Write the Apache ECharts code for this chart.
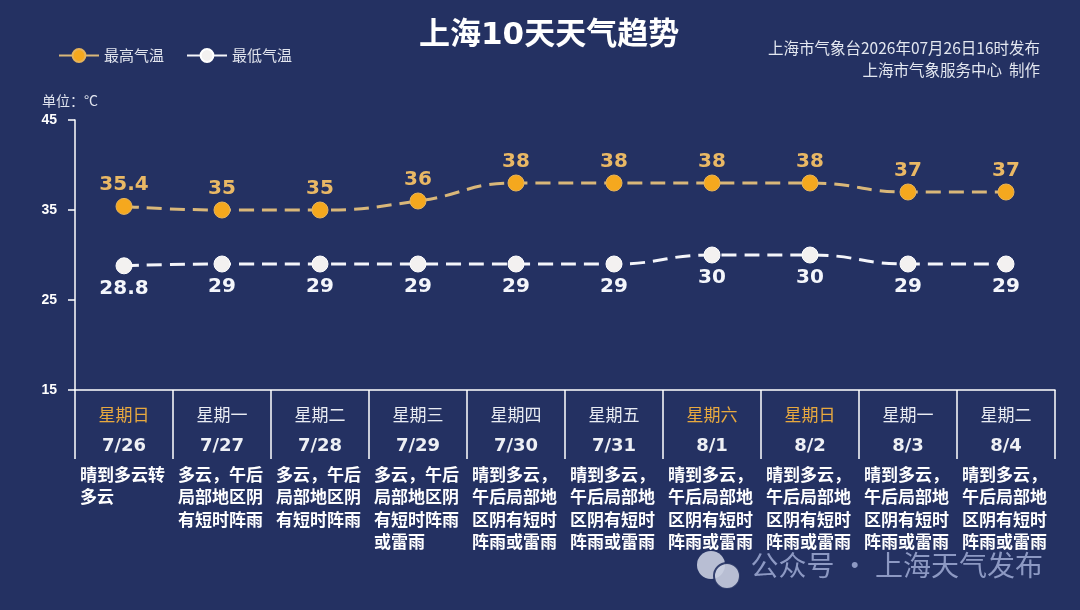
<!DOCTYPE html>
<html>
<head>
<meta charset="utf-8">
<script src="https://cdn.jsdelivr.net/npm/echarts@6/dist/echarts.min.js"></script>
<style>
html,body{margin:0;padding:0;background:#243162;}
#c{width:1080px;height:610px;}
</style>
</head>
<body>
<div id="c"></div>
<script>
const dates = ['7/26','7/27','7/28','7/29','7/30','7/31','8/1','8/2','8/3','8/4'];
const weekdays = ['星期日','星期一','星期二','星期三','星期四','星期五','星期六','星期日','星期一','星期二'];
const weekend = [true,false,false,false,false,false,true,true,false,false];
const descriptions = [
  '晴到多云转\n多云',
  '多云，午后\n局部地区阴\n有短时阵雨',
  '多云，午后\n局部地区阴\n有短时阵雨',
  '多云，午后\n局部地区阴\n有短时阵雨\n或雷雨',
  '晴到多云，\n午后局部地\n区阴有短时\n阵雨或雷雨',
  '晴到多云，\n午后局部地\n区阴有短时\n阵雨或雷雨',
  '晴到多云，\n午后局部地\n区阴有短时\n阵雨或雷雨',
  '晴到多云，\n午后局部地\n区阴有短时\n阵雨或雷雨',
  '晴到多云，\n午后局部地\n区阴有短时\n阵雨或雷雨',
  '晴到多云，\n午后局部地\n区阴有短时\n阵雨或雷雨'
];
const maxTemp = [35.4, 35, 35, 36, 38, 38, 38, 38, 37, 37];
const minTemp = [28.8, 29, 29, 29, 29, 29, 30, 30, 29, 29];
const yTicks = {min: 15, max: 45, interval: 10};

const NUM = "'DejaVu Sans', 'Noto Sans CJK SC', sans-serif";
const ARIAL = "'Liberation Sans', 'Noto Sans CJK SC', sans-serif";
const CJK = "'Noto Sans CJK SC', sans-serif";
const BG = '#243162';

const chart = echarts.init(document.getElementById('c'), null, {renderer: 'canvas'});
chart.setOption({
  backgroundColor: BG,
  textStyle: {fontFamily: CJK},
  title: [
    {
      text: '上海10天天气趋势', left: 414, top: 15,
      textStyle: {color: '#ffffff', fontSize: 31, fontWeight: 'bold', fontFamily: NUM}
    }
  ],
  legend: {
    left: 53, top: 43, itemWidth: 40, itemHeight: 16, itemGap: 22,
    textStyle: {color: '#e3e6ef', fontSize: 15, fontFamily: CJK},
    lineStyle: {type: 'solid'},
    data: ['最高气温', '最低气温']
  },
  grid: {left: 75, right: 25, top: 120, bottom: 220, containLabel: false},
  xAxis: {
    type: 'category',
    data: dates,
    boundaryGap: true,
    axisLine: {lineStyle: {color: '#ffffff', width: 1.5}},
    axisTick: {show: true, interval: 0, length: 69, lineStyle: {color: '#ffffff', width: 1.5}},
    splitLine: {show: false},
    axisLabel: {
      interval: 0, margin: 10, width: 88, align: 'center',
      formatter: function (value, idx) {
        const wk = weekend[idx] ? 'wkE' : 'wk';
        const lines = descriptions[idx].split('\n').map(s => '{d|' + s + '}').join('\n');
        return '{' + wk + '|' + weekdays[idx] + '}\n{dt|' + value + '}\n' + lines;
      },
      rich: {
        wk: {fontSize: 17, lineHeight: 30, color: '#e9ecf3', align: 'center', fontFamily: CJK},
        wkE: {fontSize: 17, lineHeight: 30, color: '#e8a93f', align: 'center', fontFamily: CJK},
        dt: {fontSize: 18, fontWeight: 'bold', lineHeight: 33, color: '#eef0f5', align: 'center', fontFamily: NUM},
        d: {fontSize: 17, fontWeight: 'bold', lineHeight: 22.5, color: '#ffffff', align: 'left', fontFamily: CJK}
      }
    }
  },
  yAxis: {
    type: 'value',
    min: yTicks.min, max: yTicks.max, interval: yTicks.interval,
    name: '单位：°C',
    nameLocation: 'end', nameGap: 12,
    nameTextStyle: {color: '#dfe3ee', fontSize: 14, padding: [0, 10, 0, 0], fontFamily: CJK},
    axisLine: {show: true, lineStyle: {color: '#ffffff', width: 1.5}},
    axisTick: {show: true, length: 7, lineStyle: {color: '#ffffff', width: 1.5}},
    splitLine: {show: false},
    axisLabel: {color: '#ffffff', fontSize: 14, fontWeight: 'bold', margin: 18, fontFamily: ARIAL}
  },
  series: [
    {
      name: '最高气温', type: 'line', data: maxTemp, smooth: 0.5,
      symbol: 'circle', symbolSize: 16,
      lineStyle: {color: '#d9b779', width: 3, type: [15, 8]},
      itemStyle: {color: '#f5a81e', borderColor: '#e6b35a', borderWidth: 1},
      label: {show: true, position: 'top', distance: 3, color: '#e9b865', fontSize: 20, fontWeight: 'bold', fontFamily: NUM}
    },
    {
      name: '最低气温', type: 'line', data: minTemp, smooth: 0.5,
      symbol: 'circle', symbolSize: 16,
      lineStyle: {color: '#f4f5fa', width: 3, type: [15, 8]},
      itemStyle: {color: '#f3f1f0', borderColor: '#ffffff', borderWidth: 1},
      label: {show: true, position: 'bottom', distance: 4, color: '#f4f6fb', fontSize: 20, fontWeight: 'bold', fontFamily: NUM}
    }
  ],
  graphic: [
    {
      type: 'text', right: 40, top: 40,
      style: {text: '上海市气象台2026年07月26日16时发布', fill: '#e3e7f0', fontSize: 15.5, fontFamily: CJK}
    },
    {
      type: 'text', right: 40, top: 62,
      style: {text: '上海市气象服务中心  制作', fill: '#e3e7f0', fontSize: 15.5, fontFamily: CJK}
    },
    {type: 'circle', left: 697, top: 551, shape: {r: 14}, style: {fill: '#c9cee0', opacity: 0.9}},
    {type: 'circle', left: 713, top: 562, shape: {r: 13}, style: {fill: '#c9cee0', opacity: 0.9, stroke: BG, lineWidth: 2}},
    {
      type: 'text', right: 37, top: 551,
      style: {text: '公众号 · 上海天气发布', fill: '#8d99c3', fontSize: 28, fontFamily: CJK}
    }
  ]
});
</script>
</body>
</html>
